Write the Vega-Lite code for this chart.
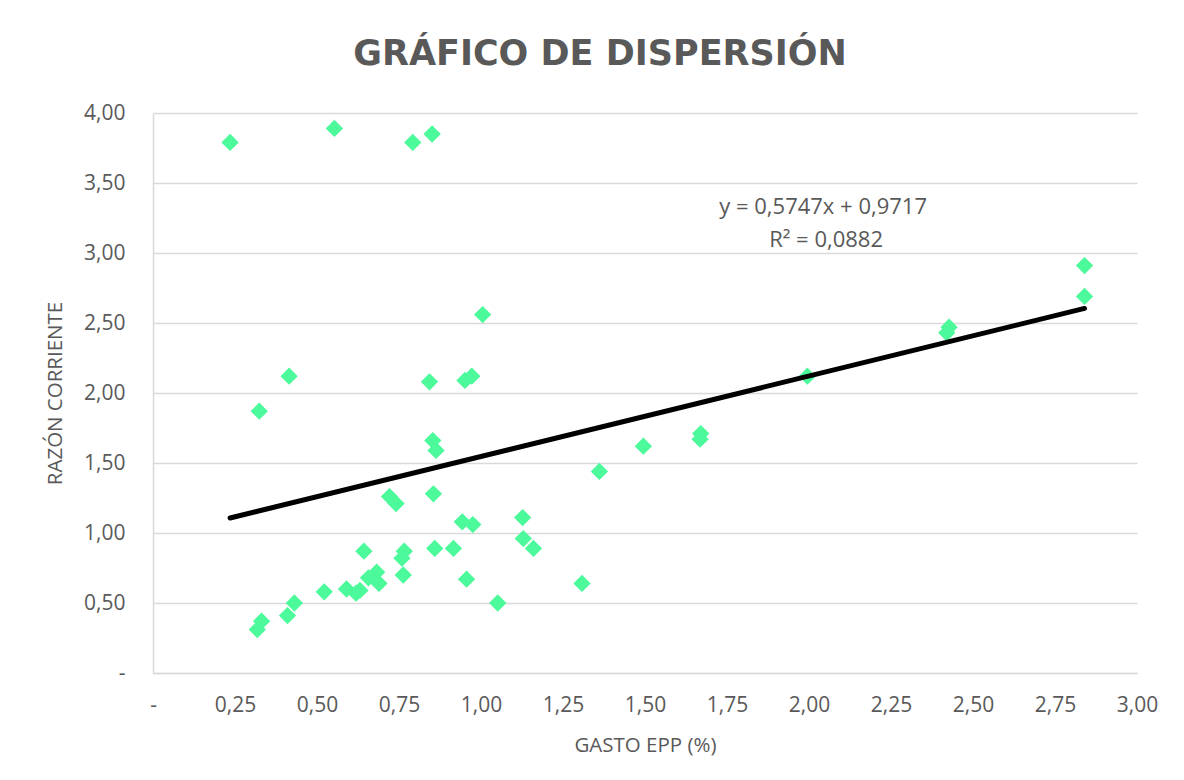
{
  "$schema": "https://vega.github.io/schema/vega-lite/v6.json",
  "autosize": {"type": "none"},
  "padding": {"left": 153, "top": 113, "right": 47, "bottom": 107},
  "width": 984,
  "height": 560,
  "background": "white",
  "title": {
    "text": "GRÁFICO DE DISPERSIÓN",
    "font": "DejaVu Sans",
    "fontSize": 35,
    "fontWeight": "bold",
    "color": "#595959",
    "anchor": "middle",
    "dx": -45,
    "offset": 30
  },
  "config": {
    "font": "Open Sans",
    "view": {"stroke": null},
    "axis": {
      "labelFont": "Open Sans",
      "titleFont": "Open Sans",
      "labelColor": "#595959",
      "titleColor": "#595959",
      "titleFontWeight": "normal",
      "labelFontSize": 21,
      "titleFontSize": 20.5,
      "gridColor": "#D9D9D9",
      "gridWidth": 1.5,
      "domainColor": "#D9D9D9",
      "domainWidth": 1.5,
      "ticks": false
    }
  },
  "datasets": {
    "points": [
      {"gasto": 0.235, "razon": 3.79},
      {"gasto": 0.553, "razon": 3.89},
      {"gasto": 0.792, "razon": 3.79},
      {"gasto": 0.851, "razon": 3.85},
      {"gasto": 1.005, "razon": 2.56},
      {"gasto": 0.415, "razon": 2.12},
      {"gasto": 0.843, "razon": 2.08},
      {"gasto": 0.951, "razon": 2.09},
      {"gasto": 0.972, "razon": 2.12},
      {"gasto": 0.324, "razon": 1.87},
      {"gasto": 0.853, "razon": 1.66},
      {"gasto": 0.863, "razon": 1.59},
      {"gasto": 1.361, "razon": 1.44},
      {"gasto": 0.721, "razon": 1.26},
      {"gasto": 0.741, "razon": 1.21},
      {"gasto": 0.855, "razon": 1.28},
      {"gasto": 0.943, "razon": 1.08},
      {"gasto": 0.975, "razon": 1.06},
      {"gasto": 1.127, "razon": 1.11},
      {"gasto": 1.129, "razon": 0.96},
      {"gasto": 1.16, "razon": 0.89},
      {"gasto": 0.643, "razon": 0.87},
      {"gasto": 0.766, "razon": 0.87},
      {"gasto": 0.759, "razon": 0.82},
      {"gasto": 0.859, "razon": 0.89},
      {"gasto": 0.916, "razon": 0.89},
      {"gasto": 0.682, "razon": 0.72},
      {"gasto": 0.657, "razon": 0.68},
      {"gasto": 0.689, "razon": 0.64},
      {"gasto": 0.763, "razon": 0.70},
      {"gasto": 0.956, "razon": 0.67},
      {"gasto": 1.308, "razon": 0.64},
      {"gasto": 0.522, "razon": 0.58},
      {"gasto": 0.59, "razon": 0.60},
      {"gasto": 0.619, "razon": 0.57},
      {"gasto": 0.631, "razon": 0.59},
      {"gasto": 1.051, "razon": 0.50},
      {"gasto": 0.431, "razon": 0.50},
      {"gasto": 0.41, "razon": 0.41},
      {"gasto": 0.331, "razon": 0.37},
      {"gasto": 0.318, "razon": 0.31},
      {"gasto": 1.495, "razon": 1.62},
      {"gasto": 1.67, "razon": 1.71},
      {"gasto": 1.668, "razon": 1.67},
      {"gasto": 1.995, "razon": 2.12},
      {"gasto": 2.427, "razon": 2.47},
      {"gasto": 2.42, "razon": 2.43},
      {"gasto": 2.84, "razon": 2.91},
      {"gasto": 2.84, "razon": 2.69}
    ],
    "trend": [
      {"gasto": 0.235, "razon": 1.107},
      {"gasto": 2.84, "razon": 2.604}
    ],
    "equation": [
      {"gasto": 2.043, "razon": 3.33, "label": "y = 0,5747x + 0,9717"},
      {"gasto": 2.052, "razon": 3.09, "label": "R² = 0,0882"}
    ]
  },
  "encoding": {
    "x": {
      "field": "gasto",
      "type": "quantitative",
      "scale": {"domain": [0, 3], "nice": false, "zero": true},
      "axis": {
        "title": "GASTO EPP (%)",
        "values": [0, 0.25, 0.5, 0.75, 1, 1.25, 1.5, 1.75, 2, 2.25, 2.5, 2.75, 3],
        "labelExpr": "datum.value === 0 ? '-' : replace(format(datum.value, '.2f'), '.', ',')",
        "grid": false,
        "labelPadding": 21,
        "titlePadding": 20,
        "labelFlush": false
      }
    },
    "y": {
      "field": "razon",
      "type": "quantitative",
      "scale": {"domain": [0, 4], "nice": false},
      "axis": {
        "title": "RAZÓN CORRIENTE",
        "values": [0, 0.5, 1, 1.5, 2, 2.5, 3, 3.5, 4],
        "labelExpr": "datum.value === 0 ? '-' : replace(format(datum.value, '.2f'), '.', ',')",
        "grid": true,
        "labelPadding": 28,
        "titlePadding": 18
      }
    }
  },
  "layer": [
    {
      "data": {"name": "points"},
      "mark": {"type": "point", "shape": "diamond", "filled": true, "size": 300, "color": "#4CF99B", "opacity": 1}
    },
    {
      "data": {"name": "trend"},
      "mark": {"type": "line", "color": "#000000", "strokeWidth": 5, "strokeCap": "round"}
    },
    {
      "data": {"name": "equation"},
      "mark": {"type": "text", "fontSize": 22, "color": "#595959", "align": "center", "baseline": "middle", "font": "Open Sans"},
      "encoding": {"text": {"field": "label"}}
    }
  ]
}
